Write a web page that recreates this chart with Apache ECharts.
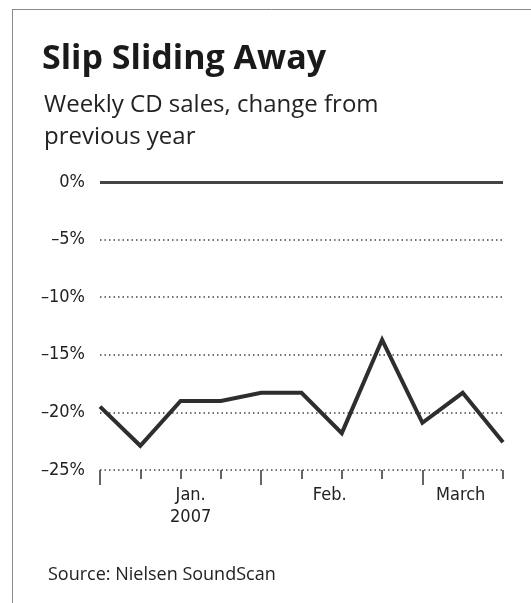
<!DOCTYPE html>
<html>
<head>
<meta charset="utf-8">
<script src="https://cdn.jsdelivr.net/npm/echarts@6/dist/echarts.min.js"></script>
<style>
html,body{margin:0;padding:0;background:#fff;}
#chart{width:531px;height:603px;}
</style>
</head>
<body>
<div id="chart"></div>
<script>
// Week index 0..10 (weekly points, Dec 2006 – March 2007)
const weeks = [0, 1, 2, 3, 4, 5, 6, 7, 8, 9, 10];
const cdSalesChange = [-19.5, -22.9, -19.0, -19.0, -18.3, -18.3, -21.8, -13.7, -20.9, -18.3, -22.6];
const yTicks = [0, -5, -10, -15, -20, -25];
const monthLabelPos = [2.25, 5.7, 8.95];
const monthLabels = ['Jan.\n2007', 'Feb.', 'March'];
const monthBoundaries = [0, 4, 8];

const chart = echarts.init(document.getElementById('chart'), null, {renderer: 'canvas'});
const TFONT = 'Open Sans';
const AFONT = "'DejaVu Sans Condensed', Lato, sans-serif";
const TXT = '#222';

chart.setOption({
  backgroundColor: '#ffffff',
  animation: false,
  title: [
    {
      text: 'Slip Sliding Away',
      left: 37, top: 34,
      textStyle: {fontFamily: TFONT, fontWeight: 'bold', fontSize: 34, lineHeight: 40, color: '#1a1a1a'}
    },
    {
      text: 'Weekly CD sales, change from\nprevious year',
      left: 39, top: 84,
      textStyle: {fontFamily: TFONT, fontWeight: 'normal', fontSize: 24, lineHeight: 32, color: TXT}
    },
    {
      text: 'Source: Nielsen SoundScan',
      left: 43, top: 559,
      textStyle: {fontFamily: TFONT, fontWeight: 'normal', fontSize: 18, lineHeight: 22, color: TXT}
    }
  ],
  graphic: [
    {type: 'line', shape: {x1: 12, y1: 9.5, x2: 531, y2: 9.5}, style: {stroke: '#8a8a8a', lineWidth: 1}},
    {type: 'line', shape: {x1: 12.5, y1: 9, x2: 12.5, y2: 603}, style: {stroke: '#8a8a8a', lineWidth: 1}}
  ],
  grid: {left: 100, right: 28, top: 182, bottom: 133, containLabel: false},
  xAxis: [
    {
      type: 'value', min: 0, max: 10, position: 'bottom',
      axisLine: {show: false, onZero: false},
      axisTick: {show: true, customValues: weeks, length: 9, lineStyle: {color: '#333', width: 1.5}},
      axisLabel: {
        show: true, customValues: monthLabelPos,
        formatter: function (v) {
          for (let i = 0; i < monthLabelPos.length; i++) {
            if (Math.abs(v - monthLabelPos[i]) < 1e-6) return monthLabels[i];
          }
          return '';
        },
        margin: 14, fontFamily: AFONT, fontSize: 18, lineHeight: 22, color: TXT
      },
      splitLine: {show: false}
    },
    {
      type: 'value', min: 0, max: 10, position: 'top', offset: -288,
      axisLine: {show: false, onZero: false},
      axisTick: {show: true, inside: true, customValues: monthBoundaries, length: 15, lineStyle: {color: '#333', width: 1.5}},
      axisLabel: {show: false},
      splitLine: {show: false}
    }
  ],
  yAxis: {
    type: 'value', min: -25, max: 0, interval: 5,
    axisLine: {show: false},
    axisTick: {show: false},
    axisLabel: {
      margin: 15, fontFamily: AFONT, fontSize: 18, color: TXT,
      formatter: function (v) { return (v < 0 ? '\u2013' + Math.abs(v) : v) + '%'; }
    },
    splitLine: {show: true, lineStyle: {color: '#444', width: 1.5, type: [1.5, 3]}}
  },
  series: [{
    type: 'line',
    data: weeks.map((w, i) => [w, cdSalesChange[i]]),
    showSymbol: false,
    lineStyle: {color: '#2e2e2e', width: 4, join: 'miter'},
    silent: true,
    markLine: {
      silent: true, symbol: 'none', label: {show: false},
      lineStyle: {color: '#444', width: 3, type: 'solid'},
      data: [{yAxis: 0}]
    }
  }]
});
</script>
</body>
</html>
